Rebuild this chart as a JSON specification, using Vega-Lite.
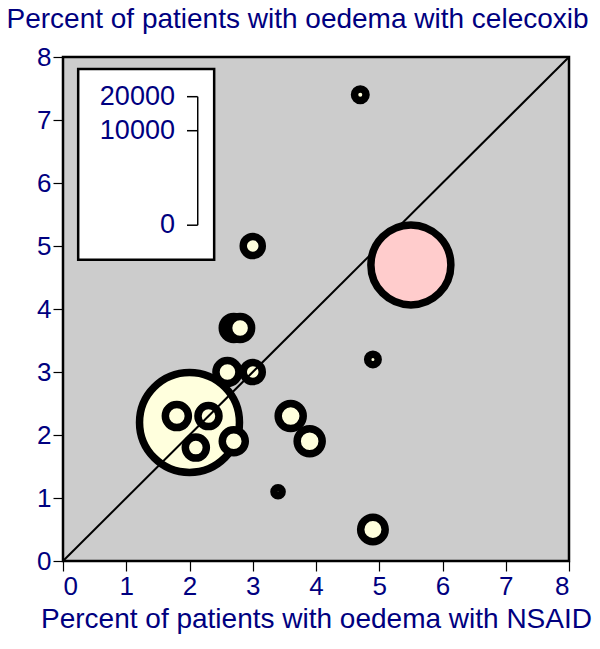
{
  "$schema": "https://vega.github.io/schema/vega-lite/v6.json",
  "autosize": "none",
  "width": 506,
  "height": 504,
  "padding": {"left": 63, "top": 57, "right": 31, "bottom": 88},
  "background": "white",
  "config": {
    "font": "Liberation Sans",
    "view": {"fill": "#cccccc", "stroke": "black", "strokeWidth": 2.5},
    "axis": {
      "grid": false,
      "domain": false,
      "labelFont": "Liberation Sans",
      "titleFont": "Liberation Sans",
      "labelFontSize": 26,
      "titleFontSize": 28,
      "labelColor": "#000080",
      "titleColor": "#000080",
      "titleFontWeight": "normal",
      "tickColor": "black",
      "tickSize": 10,
      "tickWidth": 1.2,
      "labelPadding": 2,
      "format": "d"
    }
  },
  "datasets": {
    "trials": [
      {"nsaid": 2.0, "celecoxib": 2.2, "patients": 11300, "group": "yellow"},
      {"nsaid": 5.5, "celecoxib": 4.7, "patients": 7240, "group": "pink"},
      {"nsaid": 4.9, "celecoxib": 0.5, "patients": 680, "group": "yellow"},
      {"nsaid": 3.6, "celecoxib": 2.3, "patients": 710, "group": "yellow"},
      {"nsaid": 3.9, "celecoxib": 1.9, "patients": 710, "group": "yellow"},
      {"nsaid": 2.7, "celecoxib": 3.7, "patients": 600, "group": "yellow"},
      {"nsaid": 2.8, "celecoxib": 3.7, "patients": 600, "group": "yellow"},
      {"nsaid": 2.6, "celecoxib": 3.0, "patients": 600, "group": "yellow"},
      {"nsaid": 3.0, "celecoxib": 3.0, "patients": 410, "group": "yellow"},
      {"nsaid": 1.8, "celecoxib": 2.3, "patients": 600, "group": "yellow"},
      {"nsaid": 2.3, "celecoxib": 2.3, "patients": 500, "group": "yellow"},
      {"nsaid": 2.1, "celecoxib": 1.8, "patients": 500, "group": "yellow"},
      {"nsaid": 2.7, "celecoxib": 1.9, "patients": 600, "group": "yellow"},
      {"nsaid": 3.0, "celecoxib": 5.0, "patients": 410, "group": "yellow"},
      {"nsaid": 4.7, "celecoxib": 7.4, "patients": 150, "group": "yellow"},
      {"nsaid": 4.9, "celecoxib": 3.2, "patients": 125, "group": "yellow"},
      {"nsaid": 3.4, "celecoxib": 1.1, "patients": 75, "group": "yellow"}
    ],
    "diagonal": [{"x": 0, "y": 0, "x2": 8, "y2": 8}],
    "legendbox": [{"x": 0.24, "x2": 2.39, "y": 4.78, "y2": 7.81}],
    "legendaxis": [
      {"x": 2.13, "x2": 2.13, "y": 5.33, "y2": 7.37},
      {"x": 1.96, "x2": 2.13, "y": 5.33, "y2": 5.33},
      {"x": 1.96, "x2": 2.13, "y": 6.83, "y2": 6.83},
      {"x": 1.96, "x2": 2.13, "y": 7.37, "y2": 7.37}
    ],
    "legendlabels": [
      {"x": 1.77, "y": 5.33, "label": "0"},
      {"x": 1.77, "y": 6.83, "label": "10000"},
      {"x": 1.77, "y": 7.37, "label": "20000"}
    ]
  },
  "layer": [
    {
      "data": {"name": "trials"},
      "transform": [{"filter": "datum.group === 'yellow'"}],
      "mark": {"type": "point", "filled": false, "shape": "circle", "fill": "#ffffdd", "fillOpacity": 1, "stroke": "black", "strokeWidth": 7.5, "opacity": 1},
      "encoding": {
        "x": {"field": "nsaid", "type": "quantitative", "scale": {"domain": [0, 8], "nice": false}, "axis": {"values": [0,1,2,3,4,5,6,7,8], "title": "Percent of patients with oedema with NSAID", "titlePadding": 6}},
        "y": {"field": "celecoxib", "type": "quantitative", "scale": {"domain": [0, 8], "nice": false}, "axis": {"values": [0,1,2,3,4,5,6,7,8], "title": "Percent of patients with oedema with celecoxib", "titleAngle": 0, "titleAlign": "left", "titleBaseline": "alphabetic", "titleX": -57, "titleY": -30}},
        "size": {"field": "patients", "type": "quantitative", "scale": {"type": "linear", "domain": [0, 20000], "range": [0, 17672]}, "legend": null},
        "order": {"field": "patients", "sort": "descending"}
      }
    },
    {
      "data": {"name": "diagonal"},
      "mark": {"type": "rule", "color": "black", "strokeWidth": 2},
      "encoding": {
        "x": {"field": "x", "type": "quantitative"},
        "y": {"field": "y", "type": "quantitative"},
        "x2": {"field": "x2"},
        "y2": {"field": "y2"}
      }
    },
    {
      "data": {"name": "trials"},
      "transform": [{"filter": "datum.group === 'pink'"}],
      "mark": {"type": "point", "filled": false, "shape": "circle", "fill": "#ffcccc", "fillOpacity": 1, "stroke": "black", "strokeWidth": 7.5, "opacity": 1},
      "encoding": {
        "x": {"field": "nsaid", "type": "quantitative"},
        "y": {"field": "celecoxib", "type": "quantitative"},
        "size": {"field": "patients", "type": "quantitative", "scale": {"type": "linear", "domain": [0, 20000], "range": [0, 17672]}, "legend": null}
      }
    },
    {
      "data": {"name": "legendbox"},
      "mark": {"type": "rect", "fill": "white", "stroke": "black", "strokeWidth": 2.5},
      "encoding": {
        "x": {"field": "x", "type": "quantitative"},
        "x2": {"field": "x2"},
        "y": {"field": "y", "type": "quantitative"},
        "y2": {"field": "y2"}
      }
    },
    {
      "data": {"name": "legendaxis"},
      "mark": {"type": "rule", "color": "black", "strokeWidth": 1.5},
      "encoding": {
        "x": {"field": "x", "type": "quantitative"},
        "x2": {"field": "x2"},
        "y": {"field": "y", "type": "quantitative"},
        "y2": {"field": "y2"}
      }
    },
    {
      "data": {"name": "legendlabels"},
      "mark": {"type": "text", "align": "right", "baseline": "middle", "fontSize": 27, "color": "#000080", "font": "Liberation Sans"},
      "encoding": {
        "x": {"field": "x", "type": "quantitative"},
        "y": {"field": "y", "type": "quantitative"},
        "text": {"field": "label"}
      }
    }
  ]
}
